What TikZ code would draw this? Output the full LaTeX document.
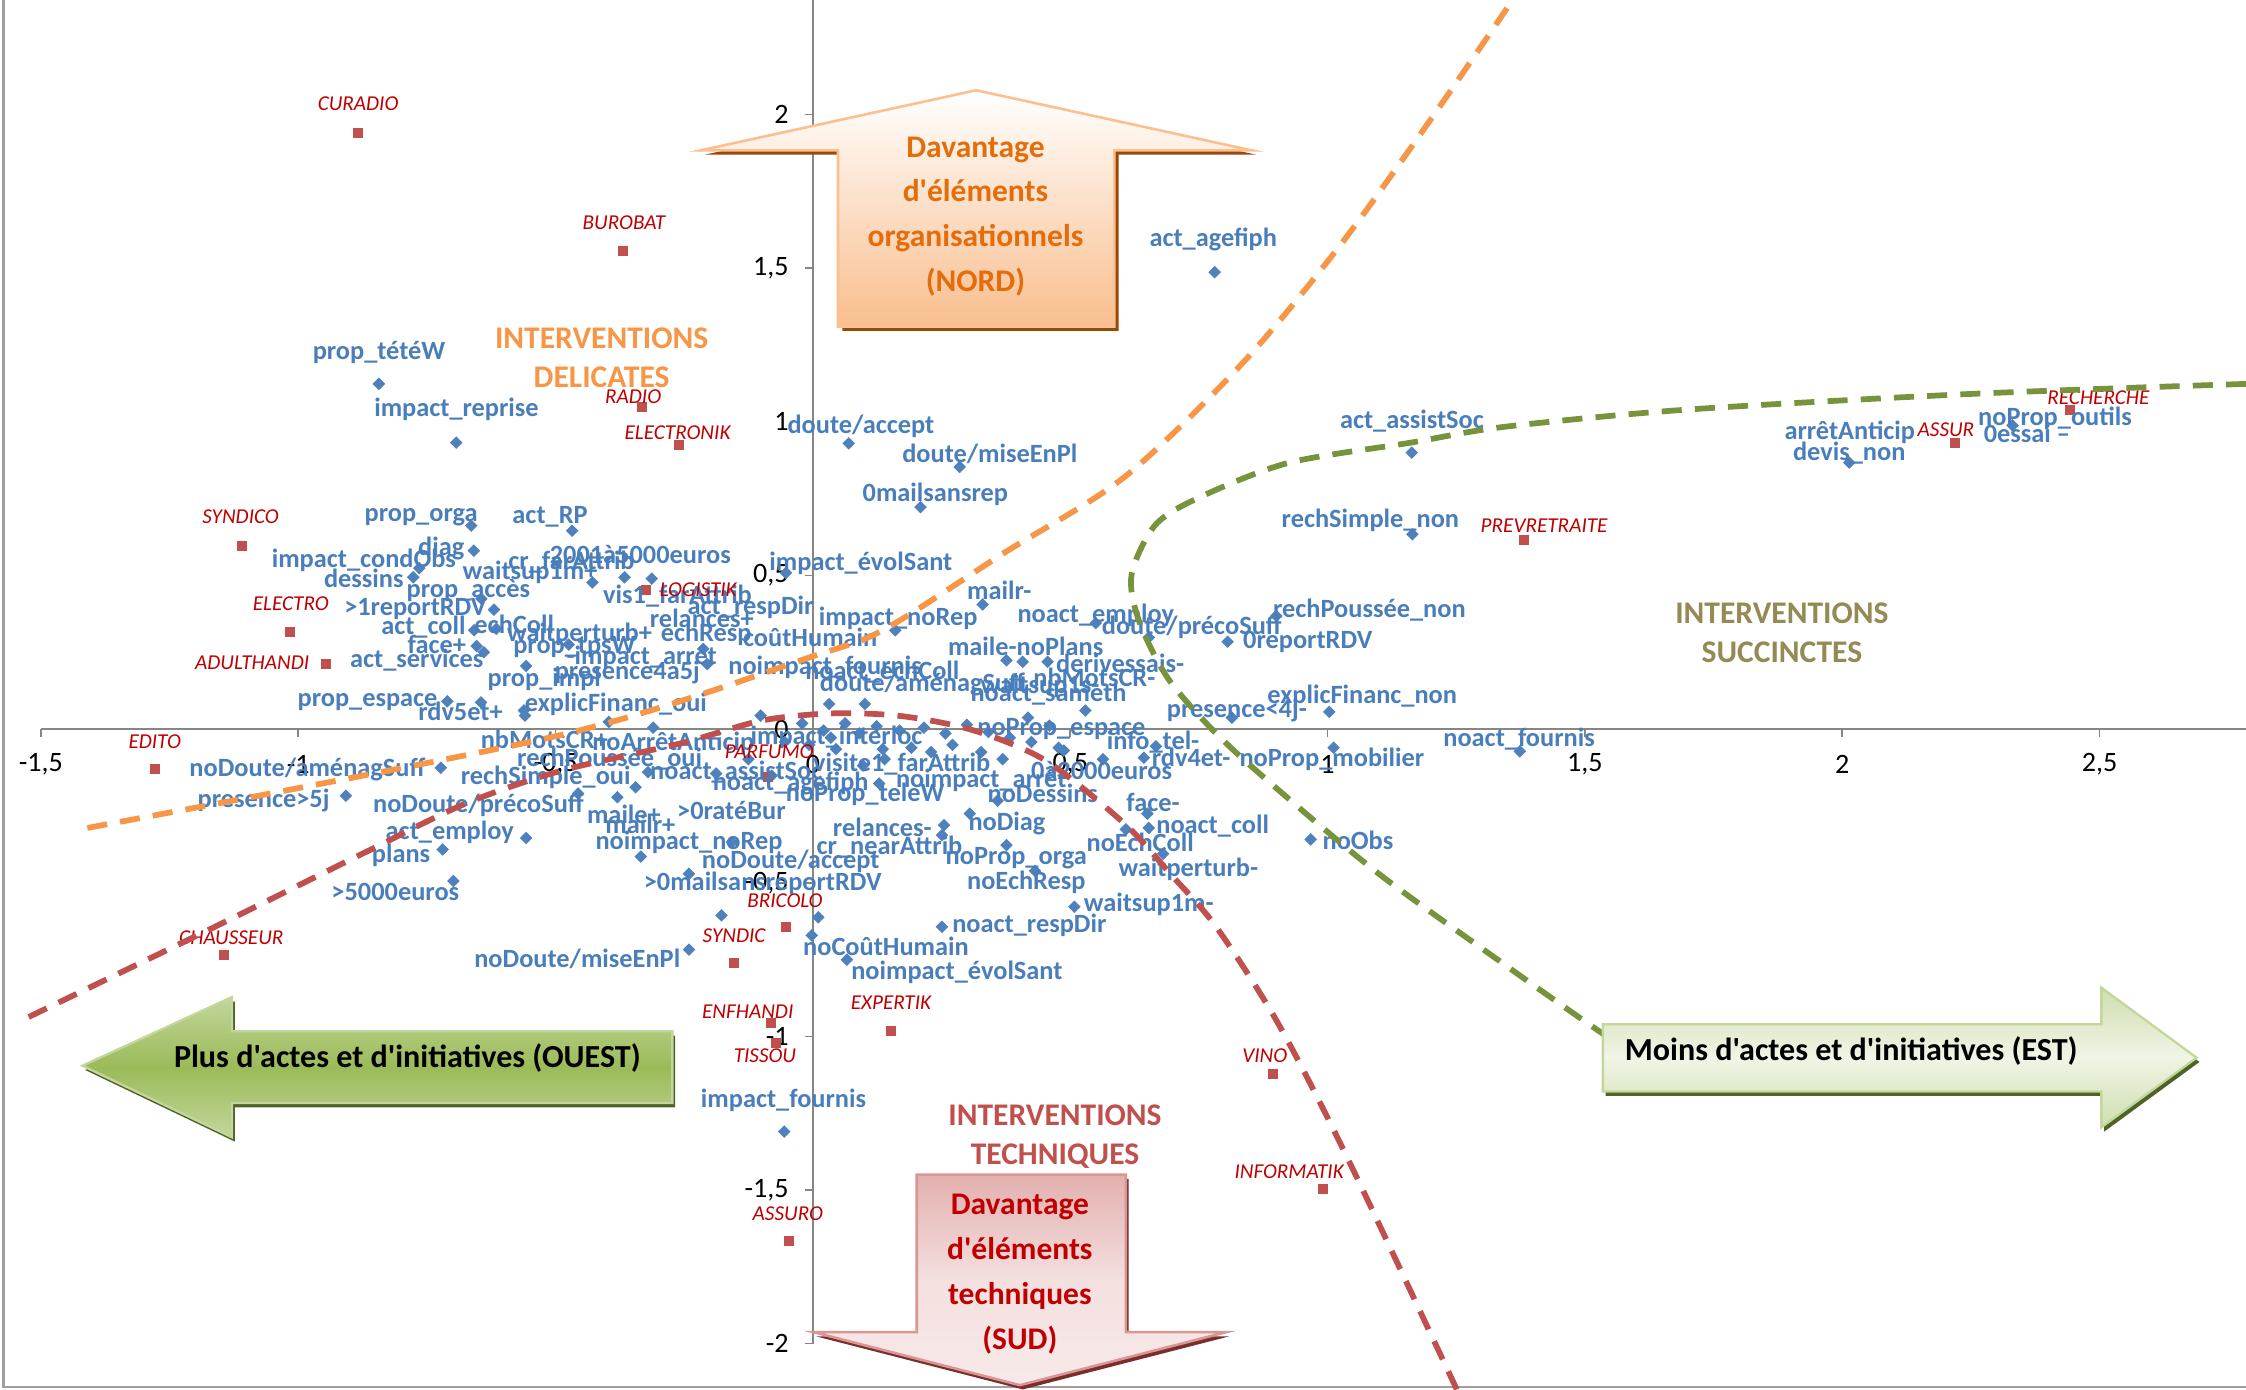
\documentclass[tikz,border=0pt]{standalone}
\usepackage{fontspec}
\setmainfont{Carlito}[Ligatures=TeXOff]
\definecolor{ptblue}{HTML}{4F81BD}
\definecolor{lblblue}{HTML}{4A7EBB}
\definecolor{sqred}{HTML}{C0504D}
\definecolor{lblred}{HTML}{C00000}
\definecolor{axgray}{HTML}{868686}
\definecolor{dashorange}{HTML}{F79646}
\definecolor{dashgreen}{HTML}{77933C}
\definecolor{dashred}{HTML}{C0504D}
\definecolor{titleolive}{HTML}{948A54}
\definecolor{nordtext}{HTML}{E46C0A}
\definecolor{nordborder}{HTML}{FAC090}
\definecolor{nordfill}{HTML}{F9BE8E}
\definecolor{nordshadow}{HTML}{984807}
\definecolor{sudtext}{HTML}{C00000}
\definecolor{sudborder}{HTML}{D99694}
\definecolor{sudshadow}{HTML}{7A2E2C}
\definecolor{greenborder}{HTML}{C3D69B}
\definecolor{greenmid}{HTML}{9BBB59}
\definecolor{greenshadow}{HTML}{4F6228}
\newcounter{blc}
\newcounter{rlc}
% blue variable label: x, y, text
\newcommand\bl[3]{\stepcounter{blc}\node[blbl] (b\arabic{blc}) at (#1,#2) {#3};}
% red company label: x, y, text
\newcommand\rl[3]{\stepcounter{rlc}\node[rlbl] (r\arabic{rlc}) at (#1,#2) {#3};}
\begin{document}
\begin{tikzpicture}[x=0.5pt,y=-0.5pt,
  dmd/.style={fill=ptblue, draw=none, rectangle, rotate=45, minimum size=3.1pt, inner sep=0pt},
  sqm/.style={fill=sqred, draw=none, rectangle, minimum size=3.5pt, inner sep=0pt},
  blbl/.style={text=lblblue, font=\bfseries\fontsize{9.2}{10}\selectfont, inner sep=0pt},
  rlbl/.style={text=lblred, font=\itshape\fontsize{7.4}{9}\selectfont, inner sep=0pt},
  ticklbl/.style={font=\fontsize{9.8}{11}\selectfont, inner sep=0pt},
  zone/.style={font=\bfseries\fontsize{11}{13.5}\selectfont, align=center, inner sep=0pt},
  bigtxt/.style={font=\bfseries\fontsize{11}{15.6}\selectfont, align=center, inner sep=0pt},
  arrtxt/.style={font=\bfseries\fontsize{11.2}{13}\selectfont, inner sep=0pt, text=black},
  curve/.style={line width=2pt, dash pattern=on 7pt off 4.6pt},
  axis/.style={draw=axgray, line width=0.6pt}
]
\useasboundingbox (0,0) rectangle (1568,970);
\fill[white] (0,0) rectangle (1568,970);

% chart frame (left and bottom)
\draw[draw=axgray!80, line width=0.8pt] (2.5,0) -- (2.5,968.5) -- (1568,968.5);

% axes
\draw[axis] (567.5,0) -- (567.5,938);
\draw[axis] (28.5,509) -- (1568,509);
\foreach \k in {-4,...,4} \draw[axis] (562,509-107.25*\k) -- (567.5,509-107.25*\k);
\foreach \k in {-3,...,5} \draw[axis] (567.5+179.65*\k,509) -- (567.5+179.65*\k,514.5);

% tick labels
\foreach \t/\v in {2/2,{1,5}/1.5,1/1,{0,5}/0.5,0/0,{-0,5}/-0.5,-1/-1,{-1,5}/-1.5,-2/-2}
  \node[ticklbl, anchor=east] at (551,509-214.5*\v) {\t};
\foreach \t/\v in {{-1,5}/-1.5,-1/-1,{-0,5}/-0.5,0/0,{0,5}/0.5,1/1,{1,5}/1.5,2/2,{2,5}/2.5}
  \node[ticklbl] at (567.5+359.3*\v,533.5) {\t};

% variable points
\foreach \p [count=\i] in {(848,190),(264.5,268),(318.5,309),(592.5,309.5),(670,326),(642.6,354),
  (985.6,316),(1291,323),(1405,297),(986,373),(891,430),(802,445),(857,448),(928,497),(860,501),
  (1061,524.5),(931,522),(798.5,529),(807,521),(801,568),(802,578),(786,579),(812,596),(750,633),
  (915,586),(657.6,647),(722.6,608),(702.6,590),(677,568),(659,576),(657.6,583),(566.7,653),
  (591.3,670),(481,663),(547.5,790),(511,588),(447.4,598),(481,610),(503.7,639),(571.3,640.4),
  (316.5,615),(309,593),(367.3,585),(241.5,555.5),(307.7,536),(431,556.6),(403.6,554),(443.7,549.6),
  (452.4,539),(500,540),(522.5,530),(538.7,541.5),(583.6,523),(616.3,523),(617.6,530),(636.3,522),
  (602.5,534.5),(613.8,547),(696.4,559),(739,522),(742.7,524),(770,530),(578.8,491.5),(603.8,491.5),
  (757.7,496),(717.7,501),(732.7,506.6),(531,499.6),(425,504),(456,508),(702.6,461),(714,462),
  (731.4,462),(765,435),(686,422),(548.7,400),(625,440),(491,453),(493.7,463.6),(397,450),
  (413.6,406.6),(436,403),(455,404),(399.4,370.5),(329,367),(330.8,384.4),(292.7,396.6),(288.5,403),
  (336,418),(344.8,425.6),(331,440),(346.5,439),(332.8,451),(337.8,455.4),(367.3,465),(312.3,489.6),
  (335.8,490.3),(365.8,496),(366.5,499.6),(560,505),(575,510),(590,505),(600,512),(612,507),
  (628,510),(645,508),(660,512),(675,506),(690,511),(705,515),(720,518),(548,518),(565,520),
  (580,515),(650,525),(665,520),(685,525),(700,530)}
  \node[dmd] (d\i) at \p {};

% company points
\foreach \p [count=\i] in {(250,93),(435,175),(448,284),(473.7,310.7),(169,381),(202.6,441),
  (227.7,463.6),(451,412),(108,537),(536,542.7),(156.4,666.7),(512.5,672.5),(548.7,647),(538,714),
  (542,728),(621.8,719.8),(888.5,749.6),(923.6,830.3),(550.5,866.4),(1063.7,377),(1365,309),(1445,286)}
  \node[sqm] (s\i) at \p {};

% variable labels
\bl{847}{167}{act\_agefiph}
\bl{264.6}{246}{prop\_tétéW}
\bl{318.7}{286}{impact\_reprise}
\bl{601}{297.4}{doute/accept}
\bl{691}{317}{doute/miseEnPl}
\bl{653}{345}{0mailsansrep}
\bl{985.7}{293.7}{act\_assistSoc}
\bl{1291.4}{302}{arrêtAnticip}
\bl{1291}{316.5}{devis\_non}
\bl{1434.6}{292}{noProp\_outils}
\bl{1415}{302.5}{0essai –}
\bl{956.7}{363.5}{rechSimple\_non}
\bl{956}{426}{rechPoussée\_non}
\bl{832}{438}{doute/précoSuff}
\bl{913}{448.4}{0reportRDV}
\bl{951}{486.4}{explicFinanc\_non}
\bl{863.5}{495.7}{presence<4j-}
\bl{1060.5}{516}{noact\_fournis}
\bl{929.8}{530}{noProp\_mobilier}
\bl{831.6}{528.7}{rdv4et-}
\bl{805}{518}{info\_tel-}
\bl{769}{538}{0à2000euros}
\bl{805}{560}{face-}
\bl{846.6}{577}{noact\_coll}
\bl{796}{588}{noEchColl}
\bl{829.6}{606.7}{waitperturb-}
\bl{802}{631}{waitsup1m-}
\bl{948}{587}{noObs}
\bl{718.6}{646}{noact\_respDir}
\bl{716.5}{616}{noEchResp}
\bl{709.5}{599}{noProp\_orga}
\bl{703}{575}{noDiag}
\bl{621}{591.5}{cr\_nearAttrib}
\bl{616}{577.6}{relances-}
\bl{552}{601}{noDoute/accept}
\bl{532.5}{616.7}{>0mailsansreportRDV}
\bl{481}{588}{noimpact\_noRep}
\bl{447}{575.3}{mailr+}
\bl{435.6}{568.3}{maile+}
\bl{510.6}{565.5}{>0ratéBur}
\bl{618.5}{660.4}{noCoûtHumain}
\bl{668}{679}{noimpact\_évolSant}
\bl{403}{669.7}{noDoute/miseEnPl}
\bl{547}{768}{impact\_fournis}
\bl{276}{623}{>5000euros}
\bl{280}{597}{plans}
\bl{314}{581}{act\_employ}
\bl{334}{562.5}{noDoute/précoSuff}
\bl{184}{559}{presence>5j}
\bl{214.6}{537}{noDoute/aménagSuff}
\bl{381}{543}{rechSimple\_oui}
\bl{425.6}{530}{rechPoussée\_oui}
\bl{380}{516}{nbMotsCR+}
\bl{430}{492}{explicFinanc\_oui}
\bl{256.6}{490}{prop\_espace}
\bl{321.5}{496.6}{rdv5et+}
\bl{291}{461}{act\_services}
\bl{305}{449.6}{face+}
\bl{295.6}{438}{act\_coll}
\bl{359}{435.6}{echColl}
\bl{290}{425}{>1reportRDV}
\bl{327}{412}{prop\_accès}
\bl{254}{403.7}{dessins}
\bl{254}{391.4}{impact\_condObs}
\bl{308}{383}{diag}
\bl{294}{361}{prop\_orga}
\bl{384}{361}{act\_RP}
\bl{447}{386.8}{2001à5000euros}
\bl{399}{392.6}{cr\_farAttrib}
\bl{370}{399.6}{waitsup1m+}
\bl{473}{415.8}{vis1\_farAttrib}
\bl{524}{424}{act\_respDir}
\bl{490}{432}{relances+}
\bl{404.6}{442.6}{waitperturb+}
\bl{493}{442.6}{echResp}
\bl{565.6}{445}{coûtHumain}
\bl{401}{452}{prop\_tpsW}
\bl{627}{432}{impact\_noRep}
\bl{601}{393.3}{impact\_évolSant}
\bl{697.6}{412}{mailr-}
\bl{765}{429.8}{noact\_employ}
\bl{716}{451.5}{maile-noPlans}
\bl{782}{463}{derivessais-}
\bl{764}{473}{nbMotsCR-}
\bl{732}{484.5}{noact\_sameth}
\bl{448}{459}{-impact\_arrêt}
\bl{438}{469.4}{presence4a5j}
\bl{576}{466}{noimpact\_fournis}
\bl{616}{469.4}{noact\_echColl}
\bl{644}{478}{doute/aménagSuff}
\bl{726}{479}{waitsup1s-}
\bl{741}{509}{noProp\_espace}
\bl{584}{514.7}{impact\_interloc}
\bl{629.5}{533.4}{visite1\_farAttrib}
\bl{685}{545}{noimpact\_arrêt}
\bl{728}{554}{noDessins}
\bl{604}{554.3}{noProp\_teleW}
\bl{552}{547}{noact\_agefiph}
\bl{514}{539}{noact\_assistSoc}
\bl{470}{519}{noArrêtAnticip}
\bl{380}{474}{prop\_impl}

% company labels
\rl{250}{72.6}{CURADIO}
\rl{435.6}{155.5}{BUROBAT}
\rl{442}{277}{RADIO}
\rl{473}{302}{ELECTRONIK}
\rl{168}{361}{SYNDICO}
\rl{203}{421.7}{ELECTRO}
\rl{176}{463}{ADULTHANDI}
\rl{108}{518}{EDITO}
\rl{487.5}{412}{LOGISTIK}
\rl{537}{525}{PARFUMO}
\rl{161.5}{654.6}{CHAUSSEUR}
\rl{512.5}{653}{SYNDIC}
\rl{548}{628.8}{BRICOLO}
\rl{522}{706}{ENFHANDI}
\rl{534}{737}{TISSOU}
\rl{622}{700}{EXPERTIK}
\rl{883}{736.8}{VINO}
\rl{900}{818}{INFORMATIK}
\rl{550}{847}{ASSURO}
\rl{1078}{367}{PREVRETRAITE}
\rl{1358.5}{300}{ASSUR}
\rl{1465}{277.4}{RECHERCHE}

% zone boundaries
\draw[curve, dashorange] plot[smooth, tension=0.5] coordinates {(61,578) (392,513) (568,458) (618,439) (701,386) (785,333) (867,254) (935,172) (997,86) (1056,0)};
\draw[curve, dashred] plot[smooth, tension=0.5] coordinates {(20,710) (148,648) (255,595) (325,561) (392,538) (475,519) (532,503) (582,498) (630,500) (680,510) (730,531) (785,575) (817,610) (849,647) (892,714) (940,807) (1017,970)};
\draw[curve, dashgreen] plot[smooth, tension=0.5] coordinates {(1568,268) (1376,275) (1177,286) (1050,298) (985,309) (900,323) (840,346) (807,366) (790,401) (795,433) (815,473) (847,510) (885,545) (960,608) (1040,666) (1118,721) (1185,765)};

% north arrow
\fill[nordshadow, shift={(3,3)}] (489,105) -- (681.5,63) -- (874,105) -- (778,105) -- (778,228) -- (585,228) -- (585,105) -- cycle;
\shade[top color=white, bottom color=nordfill, draw=nordborder, line width=0.9pt] (489,105) -- (681.5,63) -- (874,105) -- (778,105) -- (778,228) -- (585,228) -- (585,105) -- cycle;
\node[bigtxt, text=nordtext] (nordtxt) at (681,151) {Davantage\\d'éléments\\organisationnels\\(NORD)};

% south arrow
\fill[sudshadow, shift={(2,3)}] (640,820) -- (786,820) -- (786,930) -- (856,930) -- (712,967) -- (568,930) -- (640,930) -- cycle;
\shade[top color=sudborder!75, bottom color=sudborder!20, middle color=sudborder!30, draw=sudborder, line width=0.9pt] (640,820) -- (786,820) -- (786,930) -- (856,930) -- (712,967) -- (568,930) -- (640,930) -- cycle;
\node[bigtxt, text=sudtext] (sudtxt) at (712,889.5) {Davantage\\d'éléments\\techniques\\(SUD)};

% west arrow
\fill[greenshadow, shift={(2,3)}] (57.5,744) -- (162,696) -- (162,720) -- (469.4,720) -- (469.4,770) -- (162,770) -- (162,794) -- cycle;
\shade[top color=greenborder, bottom color=greenborder, middle color=greenmid, draw=greenborder, line width=0.8pt] (57.5,744) -- (162,696) -- (162,720) -- (469.4,720) -- (469.4,770) -- (162,770) -- (162,794) -- cycle;
\node[arrtxt] (ouesttxt) at (284.4,738.4) {Plus d'actes et d'initiatives (OUEST)};

% east arrow
\fill[greenshadow, shift={(2,3)}] (1119,715) -- (1467,715) -- (1467,689.5) -- (1533.5,738.4) -- (1467,787) -- (1467,762) -- (1119,762) -- cycle;
\shade[top color=greenborder!80, bottom color=greenborder!80, middle color=greenborder!25, draw=greenborder, line width=0.8pt] (1119,715) -- (1467,715) -- (1467,689.5) -- (1533.5,738.4) -- (1467,787) -- (1467,762) -- (1119,762) -- cycle;
\node[arrtxt] (esttxt) at (1292.4,733.7) {Moins d'actes et d'initiatives (EST)};

% zone titles
\node[zone, text=dashorange] (zdel) at (420,249.6) {INTERVENTIONS\\DELICATES};
\node[zone, text=titleolive] (zsuc) at (1244,441.7) {INTERVENTIONS\\SUCCINCTES};
\node[zone, text=dashred] (ztec) at (736.5,793.5) {INTERVENTIONS\\TECHNIQUES};
\end{tikzpicture}
\end{document}
